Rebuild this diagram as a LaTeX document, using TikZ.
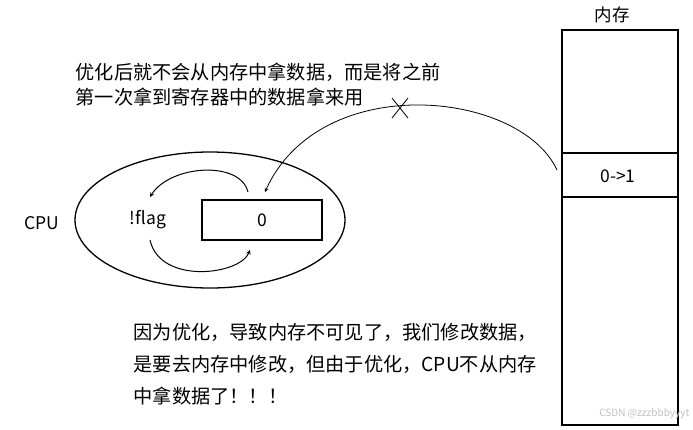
\documentclass[tikz,border=0pt]{standalone}
\usepackage{fontspec}
\setmainfont{Noto Sans CJK SC}
\usetikzlibrary{shapes.geometric}
\begin{document}
\begin{tikzpicture}[x=1pt,y=-1pt,line width=1.3pt,
  txt/.style={inner sep=0pt,font=\fontsize{17.5}{20}\selectfont},
  ctxt/.style={inner sep=0pt,font=\fontsize{19.2}{22}\selectfont},
  arr/.style={->,>=stealth,line width=1pt}]
\useasboundingbox (0,0) rectangle (693,429);
\node[txt] (memt) at (612,15) {内存};
\draw (562,30) rectangle (678,425);
\draw (562,153) -- (678,153);
\draw (562,197) -- (678,197);
\node[txt] (val) at (618,176) {0->1};
\coordinate (mem) at (557,170);
\node[draw,ellipse,minimum width=270,minimum height=136] (cpu) at (210,220) {};
\node[txt] at (42,223) {CPU};
\node[txt] (flag) at (148,220) {!flag};
\node[draw,minimum width=120,minimum height=40,txt] (reg) at (262,220) {0};
\draw[arr] (248,192) .. controls (240,160) and (170,165) .. (150,197);
\draw[arr] (150,240) .. controls (160,285) and (240,275) .. (250,250);
\draw[arr,line width=0.8pt] (mem) .. controls (520,90) and (320,70) .. (265,192);
\draw[line width=0.8pt] (392,98) -- (408,118) (408,98) -- (392,118);
\node[ctxt,anchor=west] at (75,72) {优化后就不会从内存中拿数据，而是将之前};
\node[ctxt,anchor=west] at (75,97) {第一次拿到寄存器中的数据拿来用};
\node[ctxt,anchor=west] at (133,332) {因为优化，导致内存不可见了，我们修改数据，};
\node[ctxt,anchor=west] at (133,364) {是要去内存中修改，但由于优化，CPU不从内存};
\node[ctxt,anchor=west] at (133,396) {中拿数据了！！！};
\node[inner sep=0pt,anchor=east,text=gray!50,font=\fontsize{10}{11}\selectfont] at (690,414) {CSDN @zzzbbbyyyt};
\end{tikzpicture}
\end{document}
